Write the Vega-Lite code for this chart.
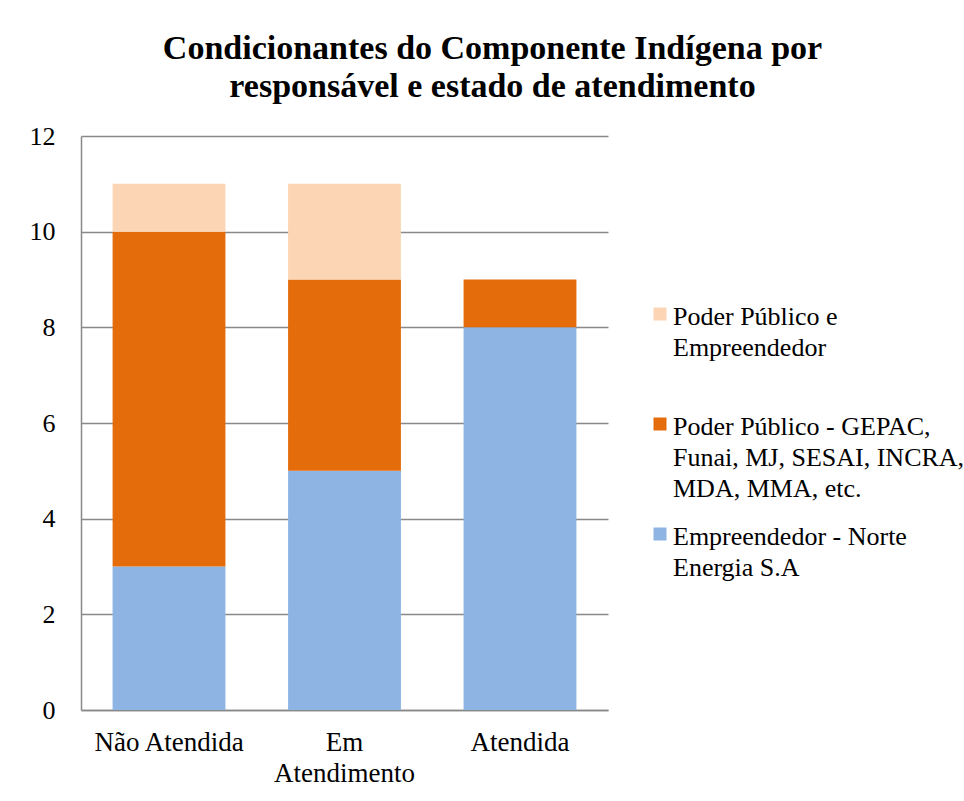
{
  "$schema": "https://vega.github.io/schema/vega-lite/v6.json",
  "width": 527,
  "height": 574,
  "autosize": {"type": "none"},
  "padding": {"left": 81, "top": 136, "right": 356, "bottom": 91},
  "background": "white",
  "config": {"font": "Liberation Serif", "view": {"stroke": null}},
  "title": {
    "text": ["Condicionantes do Componente Indígena por", "responsável e estado de atendimento"],
    "font": "Liberation Serif",
    "fontSize": 34,
    "fontWeight": "bold",
    "color": "black",
    "anchor": "middle",
    "frame": "group",
    "baseline": "bottom",
    "dx": 148,
    "dy": 38,
    "offset": 23,
    "lineHeight": 38
  },
  "data": {
    "values": [
      {"estado": "Não Atendida", "responsavel": "Empreendedor - Norte Energia S.A", "ordem": 1, "valor": 3},
      {"estado": "Não Atendida", "responsavel": "Poder Público - GEPAC, Funai, MJ, SESAI, INCRA, MDA, MMA, etc.", "ordem": 2, "valor": 7},
      {"estado": "Não Atendida", "responsavel": "Poder Público e Empreendedor", "ordem": 3, "valor": 1},
      {"estado": "Em Atendimento", "responsavel": "Empreendedor - Norte Energia S.A", "ordem": 1, "valor": 5},
      {"estado": "Em Atendimento", "responsavel": "Poder Público - GEPAC, Funai, MJ, SESAI, INCRA, MDA, MMA, etc.", "ordem": 2, "valor": 4},
      {"estado": "Em Atendimento", "responsavel": "Poder Público e Empreendedor", "ordem": 3, "valor": 2},
      {"estado": "Atendida", "responsavel": "Empreendedor - Norte Energia S.A", "ordem": 1, "valor": 8},
      {"estado": "Atendida", "responsavel": "Poder Público - GEPAC, Funai, MJ, SESAI, INCRA, MDA, MMA, etc.", "ordem": 2, "valor": 1},
      {"estado": "Atendida", "responsavel": "Poder Público e Empreendedor", "ordem": 3, "valor": 0}
    ]
  },
  "mark": {"type": "bar"},
  "encoding": {
    "x": {
      "field": "estado",
      "type": "nominal",
      "sort": ["Não Atendida", "Em Atendimento", "Atendida"],
      "scale": {"paddingInner": 0.357, "paddingOuter": 0.18},
      "axis": {
        "title": null,
        "labelAngle": 0,
        "labelFont": "Liberation Serif",
        "labelFontSize": 27,
        "labelColor": "black",
        "labelBaseline": "top",
        "labelPadding": 19,
        "labelLineHeight": 31,
        "ticks": false,
        "tickSize": 0,
        "domainColor": "#898989",
        "domainWidth": 1.5,
        "labelExpr": "datum.label == 'Em Atendimento' ? ['Em', 'Atendimento'] : datum.label"
      }
    },
    "y": {
      "field": "valor",
      "type": "quantitative",
      "stack": "zero",
      "scale": {"domain": [0, 12], "nice": false},
      "axis": {
        "title": null,
        "values": [0, 2, 4, 6, 8, 10, 12],
        "labelFont": "Liberation Serif",
        "labelFontSize": 26,
        "labelColor": "black",
        "labelPadding": 26,
        "ticks": false,
        "tickSize": 0,
        "domainColor": "#898989",
        "domainWidth": 1.5,
        "gridColor": "#898989",
        "gridWidth": 1.5
      }
    },
    "color": {
      "field": "responsavel",
      "type": "nominal",
      "scale": {
        "domain": ["Poder Público e Empreendedor", "Poder Público - GEPAC, Funai, MJ, SESAI, INCRA, MDA, MMA, etc.", "Empreendedor - Norte Energia S.A"],
        "range": ["#FCD5B5", "#E46C0A", "#8EB4E3"]
      },
      "legend": {
        "title": null,
        "orient": "none",
        "legendX": 566,
        "legendY": 155,
        "padding": 0,
        "symbolType": "M-1,0.54H1V2.54H-1Z",
        "symbolSize": 169,
        "symbolStrokeWidth": 0,
        "labelFont": "Liberation Serif",
        "labelFontSize": 26,
        "labelColor": "black",
        "labelBaseline": "top",
        "labelOffset": 0,
        "labelLimit": 400,
        "rowPadding": 9,
        "labelExpr": "datum.label == 'Poder Público e Empreendedor' ? ['Poder Público e', 'Empreendedor', ''] : datum.label == 'Empreendedor - Norte Energia S.A' ? ['Empreendedor - Norte', 'Energia S.A'] : ['Poder Público - GEPAC,', 'Funai, MJ, SESAI, INCRA,', 'MDA, MMA, etc.']",
        "encode": {"labels": {"update": {"lineHeight": {"value": 31}}}}
      }
    },
    "order": {"field": "ordem", "type": "quantitative", "sort": "ascending"}
  }
}
